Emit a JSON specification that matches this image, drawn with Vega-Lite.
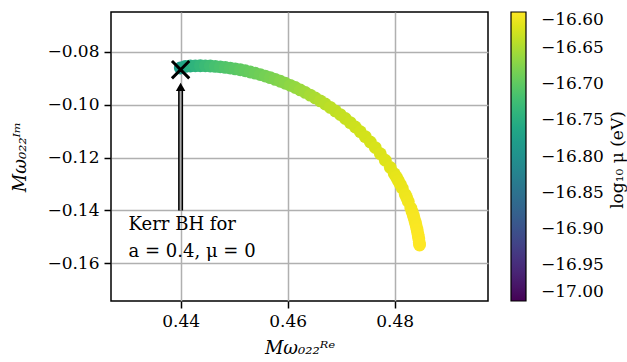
{
  "$schema": "https://vega.github.io/schema/vega-lite/v6.json",
  "width": 377,
  "height": 289,
  "autosize": "none",
  "padding": {"left": 111, "top": 12, "right": 139, "bottom": 61},
  "background": "white",
  "config": {
    "font": "DejaVu Serif",
    "view": {"stroke": "black", "strokeWidth": 1.5},
    "axis": {
      "domain": false,
      "grid": true,
      "gridColor": "#b0b0b0",
      "gridWidth": 1.5,
      "tickColor": "black",
      "tickSize": 7,
      "tickWidth": 1.5,
      "labelFont": "DejaVu Serif",
      "labelFontSize": 17,
      "labelColor": "black",
      "labelPadding": 5,
      "titleFont": "DejaVu Serif",
      "titleFontSize": 18,
      "titleFontWeight": "normal",
      "titleColor": "black",
      "titleFontStyle": "italic"
    },
    "legend": {
      "labelFont": "DejaVu Serif",
      "labelFontSize": 17,
      "labelColor": "black"
    }
  },
  "datasets": {
    "arc": [
      {"re": 0.43994, "im": -0.08609, "logmu": -16.780},
      {"re": 0.44088, "im": -0.08545, "logmu": -16.762},
      {"re": 0.44181, "im": -0.08533, "logmu": -16.750},
      {"re": 0.44275, "im": -0.08525, "logmu": -16.741},
      {"re": 0.44368, "im": -0.08522, "logmu": -16.734},
      {"re": 0.44462, "im": -0.08525, "logmu": -16.728},
      {"re": 0.44555, "im": -0.08533, "logmu": -16.723},
      {"re": 0.44649, "im": -0.08545, "logmu": -16.718},
      {"re": 0.44742, "im": -0.08563, "logmu": -16.714},
      {"re": 0.44836, "im": -0.08584, "logmu": -16.710},
      {"re": 0.44929, "im": -0.08610, "logmu": -16.706},
      {"re": 0.45022, "im": -0.08640, "logmu": -16.703},
      {"re": 0.45116, "im": -0.08674, "logmu": -16.699},
      {"re": 0.45209, "im": -0.08713, "logmu": -16.696},
      {"re": 0.45303, "im": -0.08757, "logmu": -16.693},
      {"re": 0.45396, "im": -0.08804, "logmu": -16.690},
      {"re": 0.45490, "im": -0.08856, "logmu": -16.687},
      {"re": 0.45583, "im": -0.08912, "logmu": -16.684},
      {"re": 0.45677, "im": -0.08973, "logmu": -16.681},
      {"re": 0.45770, "im": -0.09038, "logmu": -16.678},
      {"re": 0.45864, "im": -0.09108, "logmu": -16.674},
      {"re": 0.45957, "im": -0.09183, "logmu": -16.671},
      {"re": 0.46050, "im": -0.09262, "logmu": -16.667},
      {"re": 0.46144, "im": -0.09347, "logmu": -16.664},
      {"re": 0.46237, "im": -0.09437, "logmu": -16.660},
      {"re": 0.46331, "im": -0.09532, "logmu": -16.657},
      {"re": 0.46424, "im": -0.09633, "logmu": -16.653},
      {"re": 0.46518, "im": -0.09740, "logmu": -16.650},
      {"re": 0.46611, "im": -0.09852, "logmu": -16.646},
      {"re": 0.46705, "im": -0.09971, "logmu": -16.643},
      {"re": 0.46798, "im": -0.10096, "logmu": -16.640},
      {"re": 0.46892, "im": -0.10229, "logmu": -16.638},
      {"re": 0.46985, "im": -0.10369, "logmu": -16.636},
      {"re": 0.47079, "im": -0.10518, "logmu": -16.634},
      {"re": 0.47172, "im": -0.10675, "logmu": -16.632},
      {"re": 0.47265, "im": -0.10841, "logmu": -16.630},
      {"re": 0.47359, "im": -0.11018, "logmu": -16.628},
      {"re": 0.47452, "im": -0.11205, "logmu": -16.626},
      {"re": 0.47546, "im": -0.11406, "logmu": -16.625},
      {"re": 0.47639, "im": -0.11619, "logmu": -16.623},
      {"re": 0.47733, "im": -0.11850, "logmu": -16.621},
      {"re": 0.47826, "im": -0.12099, "logmu": -16.620},
      {"re": 0.47920, "im": -0.12372, "logmu": -16.618},
      {"re": 0.47994, "im": -0.12610, "logmu": -16.616},
      {"re": 0.48032, "im": -0.12736, "logmu": -16.615},
      {"re": 0.48069, "im": -0.12869, "logmu": -16.614},
      {"re": 0.48107, "im": -0.13008, "logmu": -16.613},
      {"re": 0.48144, "im": -0.13155, "logmu": -16.612},
      {"re": 0.48200, "im": -0.13393, "logmu": -16.610},
      {"re": 0.48228, "im": -0.13521, "logmu": -16.609},
      {"re": 0.48256, "im": -0.13660, "logmu": -16.608},
      {"re": 0.48303, "im": -0.13903, "logmu": -16.607},
      {"re": 0.48327, "im": -0.14044, "logmu": -16.606},
      {"re": 0.48350, "im": -0.14185, "logmu": -16.605},
      {"re": 0.48368, "im": -0.14311, "logmu": -16.604},
      {"re": 0.48387, "im": -0.14448, "logmu": -16.604},
      {"re": 0.48404, "im": -0.14582, "logmu": -16.603},
      {"re": 0.48419, "im": -0.14714, "logmu": -16.602},
      {"re": 0.48432, "im": -0.14842, "logmu": -16.602},
      {"re": 0.48443, "im": -0.14965, "logmu": -16.601},
      {"re": 0.48452, "im": -0.15080, "logmu": -16.601},
      {"re": 0.48462, "im": -0.15213, "logmu": -16.600},
      {"re": 0.48467, "im": -0.15308, "logmu": -16.600}
    ],
    "kerr": [{"re": 0.44, "im": -0.0867}],
    "arrow": [{"re": 0.44, "y1": -0.14, "y2": -0.0945, "head": -0.0932}],
    "label": [
      {"re": 0.43028, "im": -0.14741, "text": "Kerr BH for"},
      {"re": 0.43028, "im": -0.15773, "text": "a = 0.4, μ = 0"}
    ],
    "cbtitle": [{"re": 0.5218, "im": -0.1209, "text": "log₁₀ μ (eV)"}]
  },
  "layer": [
    {
      "data": {"name": "arc"},
      "mark": {"type": "circle", "size": 165, "opacity": 1},
      "encoding": {
        "x": {
          "field": "re", "type": "quantitative",
          "scale": {"domain": [0.42699, 0.49746], "nice": false, "zero": false},
          "axis": {"values": [0.44, 0.46, 0.48], "format": ".2f", "title": "Mω₀₂₂ᴿᵉ", "titlePadding": 10}
        },
        "y": {
          "field": "im", "type": "quantitative",
          "scale": {"domain": [-0.17425, -0.06488], "nice": false, "zero": false},
          "axis": {"values": [-0.16, -0.14, -0.12, -0.10, -0.08], "format": ".2f", "title": "Mω₀₂₂ᴵᵐ", "titlePadding": 17}
        },
        "color": {
          "field": "logmu", "type": "quantitative",
          "scale": {"domain": [-17.0, -16.6], "scheme": "viridis"},
          "legend": {
            "title": null,
            "orient": "right",
            "offset": 23,
            "padding": 0,
            "gradientLength": 289,
            "gradientThickness": 15,
            "gradientStrokeColor": "black",
            "gradientStrokeWidth": 1.2,
            "values": [-17.0, -16.95, -16.9, -16.85, -16.8, -16.75, -16.7, -16.65, -16.6],
            "format": ".2f",
            "labelOffset": 15,
            "labelOverlap": false,
            "labelBaseline": "middle"
          }
        }
      }
    },
    {
      "data": {"name": "arrow"},
      "mark": {"type": "rule", "color": "black", "strokeWidth": 5},
      "encoding": {
        "x": {"field": "re", "type": "quantitative"},
        "y": {"field": "y1", "type": "quantitative"},
        "y2": {"field": "y2"}
      }
    },
    {
      "data": {"name": "arrow"},
      "mark": {"type": "rule", "color": "#aaaaaa", "strokeWidth": 2},
      "encoding": {
        "x": {"field": "re", "type": "quantitative"},
        "y": {"field": "y1", "type": "quantitative"},
        "y2": {"field": "y2"}
      }
    },
    {
      "data": {"name": "arrow"},
      "mark": {"type": "point", "shape": "triangle-up", "size": 90, "filled": true, "color": "black", "opacity": 1},
      "encoding": {
        "x": {"field": "re", "type": "quantitative"},
        "y": {"field": "head", "type": "quantitative"}
      }
    },
    {
      "data": {"name": "kerr"},
      "mark": {"type": "point", "shape": "M-1,-1L1,1M1,-1L-1,1", "size": 300, "filled": false, "color": "black", "strokeWidth": 3, "opacity": 1},
      "encoding": {
        "x": {"field": "re", "type": "quantitative"},
        "y": {"field": "im", "type": "quantitative"}
      }
    },
    {
      "data": {"name": "label"},
      "mark": {"type": "text", "align": "left", "baseline": "alphabetic", "font": "DejaVu Serif", "fontSize": 18, "color": "black"},
      "encoding": {
        "x": {"field": "re", "type": "quantitative"},
        "y": {"field": "im", "type": "quantitative"},
        "text": {"field": "text"}
      }
    },
    {
      "data": {"name": "cbtitle"},
      "mark": {"type": "text", "align": "center", "baseline": "middle", "angle": 270, "font": "DejaVu Serif", "fontSize": 17, "color": "black", "clip": false},
      "encoding": {
        "x": {"field": "re", "type": "quantitative"},
        "y": {"field": "im", "type": "quantitative"},
        "text": {"field": "text"}
      }
    }
  ]
}
